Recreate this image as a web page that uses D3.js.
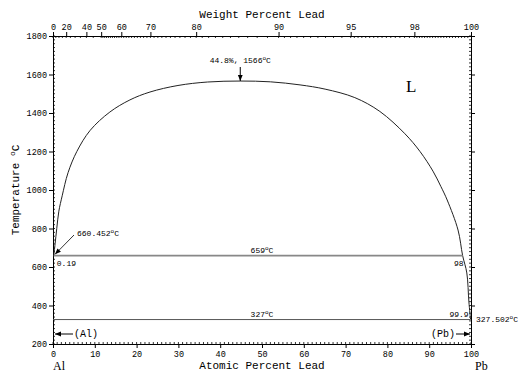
<!DOCTYPE html>
<html>
<head>
<style>
  body { margin: 0; background: #fff; }
  svg { display: block; }
  .mono { font-family: "Liberation Mono", "DejaVu Sans Mono", monospace; fill: #000; }
  .serif { font-family: "Liberation Serif", "DejaVu Serif", serif; fill: #000; }
</style>
</head>
<body>
<div id="chart"></div>
<script src="https://d3js.org/d3.v7.min.js"></script>
<script>
// liquidus / miscibility gap (atomic % Pb, deg C)
var liqAt = [0.19, 0.5, 0.9, 1.4, 2.2, 3.6, 5.7, 8.9, 13.6, 18.4, 23.2, 29.9, 37, 44.8, 52, 59.1, 65.1, 72.2, 78.2, 84.2, 87.8, 90.9, 92.8, 94.3, 96.9, 98, 99, 99.5, 99.9];
var liqT  = [659, 720, 800, 890, 970, 1090, 1200, 1310, 1405, 1468, 1509, 1543, 1561, 1566, 1562, 1546, 1524, 1480, 1408, 1292, 1200, 1098, 1018, 948, 792, 659, 569, 418, 327.5];

// invariant lines
var isoT     = [659, 327];
var isoFrom  = [0.19, 0];
var isoTo    = [98, 99.9];

var yTicks = [200, 400, 600, 800, 1000, 1200, 1400, 1600, 1800];
var xTicks = [0, 10, 20, 30, 40, 50, 60, 70, 80, 90, 100];
var wtTicks = [0, 20, 40, 50, 60, 70, 80, 90, 95, 98, 100];

var W = 518, H = 373;
var x = d3.scaleLinear().domain([0, 100]).range([53, 471]);
var y = d3.scaleLinear().domain([200, 1800]).range([344, 36]);

function wtToAt(w) {
  var pb = w / 207.2, al = (100 - w) / 26.982;
  return pb / (pb + al) * 100;
}

var svg = d3.select("#chart").append("svg").attr("width", W).attr("height", H);

var defs = svg.append("defs");
defs.append("marker").attr("id", "arr").attr("viewBox", "0 0 10 10")
  .attr("refX", 10).attr("refY", 5).attr("markerWidth", 7).attr("markerHeight", 6)
  .attr("markerUnits", "userSpaceOnUse")
  .attr("orient", "auto")
  .append("path").attr("d", "M0,1 L10,5 L0,9 Z").attr("fill", "#000");

// minor ticks
var minorY = d3.range(200, 1801, 20);
var minorX = d3.range(0, 100.01, 1);
var minorW = d3.range(0, 50, 5).concat(d3.range(50, 90, 1), d3.range(90, 95, 0.5), d3.range(95, 98, 0.2), d3.range(98, 100, 0.1));

var g = svg.append("g").attr("stroke", "#000").attr("stroke-width", 0.8);
minorY.forEach(function (t) {
  g.append("line").attr("x1", x(0)).attr("x2", x(0) + 2).attr("y1", y(t)).attr("y2", y(t));
  g.append("line").attr("x1", x(100)).attr("x2", x(100) - 2).attr("y1", y(t)).attr("y2", y(t));
});
minorX.forEach(function (t) {
  g.append("line").attr("x1", x(t)).attr("x2", x(t)).attr("y1", y(200)).attr("y2", y(200) - 2);
});
minorW.forEach(function (w) {
  g.append("line").attr("x1", x(wtToAt(w))).attr("x2", x(wtToAt(w))).attr("y1", y(1800)).attr("y2", y(1800) + 2);
});

// axes
var axLeft = svg.append("g").attr("transform", "translate(" + x(0) + ",0)")
  .call(d3.axisLeft(y).tickValues(yTicks).tickSize(4).tickPadding(2).tickFormat(d3.format("d")));
var axRight = svg.append("g").attr("transform", "translate(" + x(100) + ",0)")
  .call(d3.axisRight(y).tickValues(yTicks).tickSize(4).tickFormat(""));
var axBottom = svg.append("g").attr("transform", "translate(0," + y(200) + ")")
  .call(d3.axisBottom(x).tickValues(xTicks).tickSize(4).tickPadding(3).tickFormat(d3.format("d")));
var axTop = svg.append("g").attr("transform", "translate(0," + y(1800) + ")")
  .call(d3.axisTop(x).tickValues(wtTicks.map(wtToAt)).tickSize(4).tickPadding(2)
    .tickFormat(function (d, i) { return wtTicks[i]; }));

[axLeft, axRight, axBottom, axTop].forEach(function (a) {
  a.attr("font-family", null).attr("font-size", null);
  a.selectAll("path.domain").attr("stroke", "#000").attr("stroke-width", 1);
  a.selectAll(".tick line").attr("stroke", "#000");
  a.selectAll("text").attr("class", "mono").style("font-size", "8.5px").attr("fill", "#000");
});

// liquidus curve
var pts = liqAt.map(function (a, i) { return [a, liqT[i]]; });
svg.append("path").datum(pts)
  .attr("fill", "none").attr("stroke", "#222").attr("stroke-width", 1)
  .attr("d", d3.line().x(function (d) { return x(d[0]); }).y(function (d) { return y(d[1]); })
    .curve(d3.curveCatmullRom.alpha(0.5)));

// isotherms
isoT.forEach(function (t, i) {
  svg.append("line").attr("x1", x(isoFrom[i])).attr("x2", x(isoTo[i]))
    .attr("y1", y(t)).attr("y2", y(t))
    .attr("stroke", i === 0 ? "#888" : "#555").attr("stroke-width", i === 0 ? 1.6 : 1);
});

// labels with superscript degree
function degLabel(px, py, txt, anchor, size) {
  var t = svg.append("text").attr("class", "mono").attr("x", px).attr("y", py)
    .attr("text-anchor", anchor || "start").style("font-size", (size || 8) + "px");
  t.append("tspan").text(txt);
  t.append("tspan").attr("dy", "-3").style("font-size", "6px").text("o");
  t.append("tspan").attr("dy", "3").text("C");
  return t;
}
function plain(px, py, txt, anchor, cls, size) {
  return svg.append("text").attr("class", cls || "mono").attr("x", px).attr("y", py)
    .attr("text-anchor", anchor || "start").style("font-size", (size || 8) + "px").text(txt);
}

degLabel(x(44.8), 63, "44.8%, 1566", "middle");
svg.append("line").attr("x1", x(44.8)).attr("x2", x(44.8)).attr("y1", 67).attr("y2", y(1566))
  .attr("stroke", "#000").attr("stroke-width", 1).attr("marker-end", "url(#arr)");

plain(406, 92, "L", "start", "serif", 17);

degLabel(77, 236, "660.452", "start");
svg.append("line").attr("x1", 74).attr("y1", 235).attr("x2", x(0) + 2).attr("y2", y(660.452) - 1)
  .attr("stroke", "#000").attr("stroke-width", 0.8).attr("marker-end", "url(#arr)");

plain(x(0.19) + 3, y(659) + 10, "0.19", "start");
degLabel(x(50), y(659) - 3, "659", "middle");
plain(x(98) + 1, y(659) + 10, "98", "end");

degLabel(x(50), y(327) - 3, "327", "middle");
plain(x(99.9) - 2, y(327) - 3, "99.9", "end");
degLabel(x(100) + 5, y(327.5) + 3, "327.502", "start");

// phase arrows
svg.append("line").attr("x1", 73).attr("x2", x(0) + 2).attr("y1", 334).attr("y2", 334)
  .attr("stroke", "#000").attr("stroke-width", 1).attr("marker-end", "url(#arr)");
plain(74, 337, "(Al)", "start", "mono", 10);
svg.append("line").attr("x1", 456).attr("x2", x(100) - 1).attr("y1", 334).attr("y2", 334)
  .attr("stroke", "#000").attr("stroke-width", 1).attr("marker-end", "url(#arr)");
plain(455, 337, "(Pb)", "end", "mono", 10);

// axis titles
plain(262, 18, "Weight Percent Lead", "middle", "mono", 11);
plain(262, 369, "Atomic Percent Lead", "middle", "mono", 11);
var yt = svg.append("text").attr("class", "mono").attr("transform", "translate(19,190) rotate(-90)")
  .attr("text-anchor", "middle").style("font-size", "11px");
yt.append("tspan").text("Temperature ");
yt.append("tspan").attr("dy", "-4").style("font-size", "8px").text("o");
yt.append("tspan").attr("dy", "4").text("C");

plain(53, 370, "Al", "start", "serif", 12);
plain(475, 370, "Pb", "start", "serif", 12);
</script>
</body>
</html>
